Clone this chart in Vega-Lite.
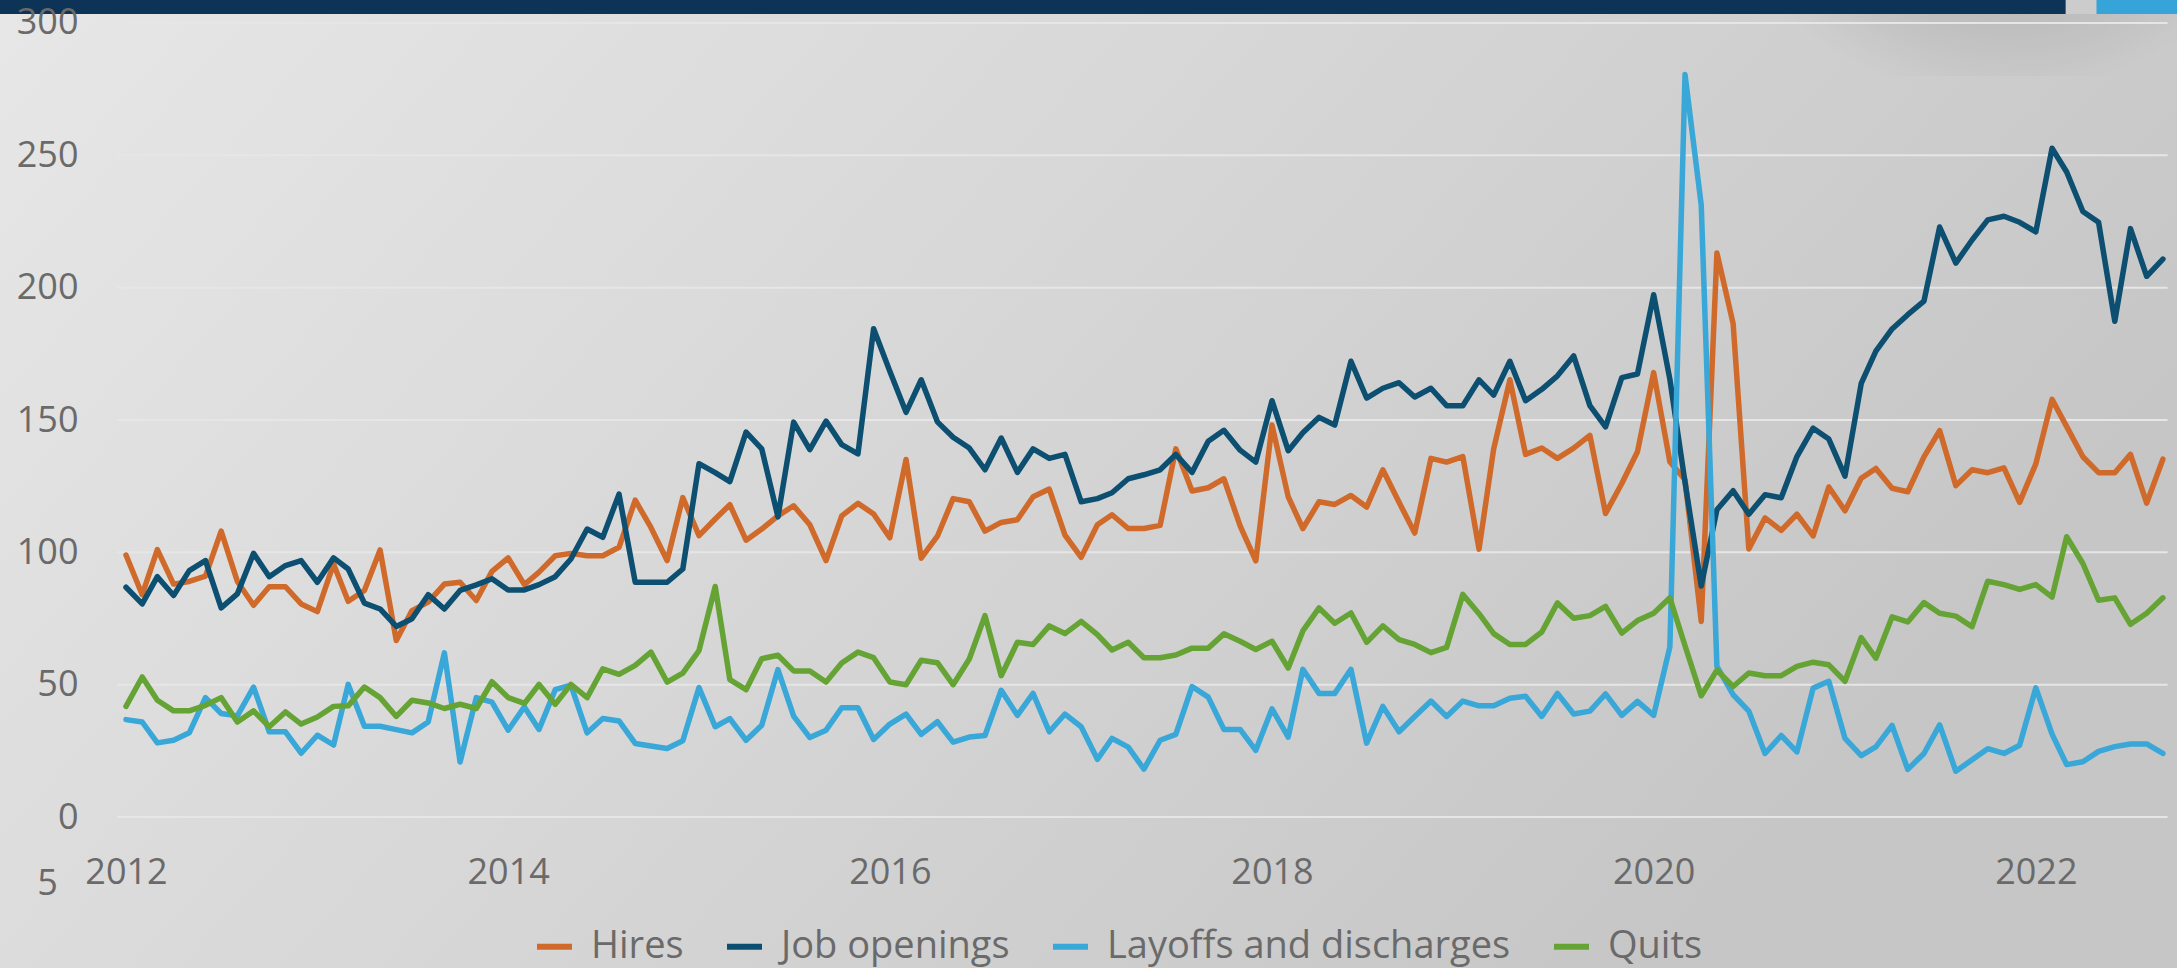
{
  "$schema": "https://vega.github.io/schema/vega-lite/v6.json",
  "width": 2177,
  "height": 968,
  "padding": 0,
  "autosize": {"type": "none"},
  "background": "#d6d6d6",
  "config": {"view": {"stroke": null}},
  "datasets": {
    "jolts": [
      {"date":"2012-01-01","Hires":99,"Job openings":86.8,"Layoffs and discharges":36.8,"Quits":41.8},
      {"date":"2012-02-01","Hires":84,"Job openings":80.5,"Layoffs and discharges":35.9,"Quits":52.9},
      {"date":"2012-03-01","Hires":101,"Job openings":90.8,"Layoffs and discharges":28,"Quits":44.1},
      {"date":"2012-04-01","Hires":88,"Job openings":83.7,"Layoffs and discharges":29,"Quits":40.1},
      {"date":"2012-05-01","Hires":89,"Job openings":93.1,"Layoffs and discharges":31.8,"Quits":40.1},
      {"date":"2012-06-01","Hires":91,"Job openings":96.9,"Layoffs and discharges":45.1,"Quits":42.2},
      {"date":"2012-07-01","Hires":108,"Job openings":79,"Layoffs and discharges":39.1,"Quits":45.1},
      {"date":"2012-08-01","Hires":89,"Job openings":84.3,"Layoffs and discharges":38.2,"Quits":35.9},
      {"date":"2012-09-01","Hires":80,"Job openings":99.6,"Layoffs and discharges":49.1,"Quits":40.1},
      {"date":"2012-10-01","Hires":87,"Job openings":90.8,"Layoffs and discharges":32.2,"Quits":34.1},
      {"date":"2012-11-01","Hires":87,"Job openings":95,"Layoffs and discharges":32.2,"Quits":39.7},
      {"date":"2012-12-01","Hires":80.5,"Job openings":96.9,"Layoffs and discharges":24.1,"Quits":35.1},
      {"date":"2013-01-01","Hires":77.6,"Job openings":88.7,"Layoffs and discharges":30.9,"Quits":37.8},
      {"date":"2013-02-01","Hires":95.6,"Job openings":97.9,"Layoffs and discharges":27.2,"Quits":41.8},
      {"date":"2013-03-01","Hires":81.5,"Job openings":93.7,"Layoffs and discharges":50.1,"Quits":42},
      {"date":"2013-04-01","Hires":85.6,"Job openings":80.8,"Layoffs and discharges":34.3,"Quits":49.1},
      {"date":"2013-05-01","Hires":100.9,"Job openings":78.6,"Layoffs and discharges":34.3,"Quits":45.1},
      {"date":"2013-06-01","Hires":66.7,"Job openings":72,"Layoffs and discharges":33,"Quits":38},
      {"date":"2013-07-01","Hires":78,"Job openings":74.9,"Layoffs and discharges":31.8,"Quits":44.1},
      {"date":"2013-08-01","Hires":81.2,"Job openings":84,"Layoffs and discharges":35.9,"Quits":43.1},
      {"date":"2013-09-01","Hires":88,"Job openings":78.6,"Layoffs and discharges":62,"Quits":41},
      {"date":"2013-10-01","Hires":88.7,"Job openings":85.6,"Layoffs and discharges":20.8,"Quits":42.6},
      {"date":"2013-11-01","Hires":81.8,"Job openings":87.7,"Layoffs and discharges":45.1,"Quits":41},
      {"date":"2013-12-01","Hires":92.8,"Job openings":90,"Layoffs and discharges":43.4,"Quits":51.1},
      {"date":"2014-01-01","Hires":97.9,"Job openings":85.8,"Layoffs and discharges":32.8,"Quits":45.1},
      {"date":"2014-02-01","Hires":87.8,"Job openings":85.8,"Layoffs and discharges":41.6,"Quits":42.9},
      {"date":"2014-03-01","Hires":92.5,"Job openings":87.8,"Layoffs and discharges":33.1,"Quits":50.1},
      {"date":"2014-04-01","Hires":98.7,"Job openings":90.8,"Layoffs and discharges":48.1,"Quits":42.6},
      {"date":"2014-05-01","Hires":99.6,"Job openings":97.5,"Layoffs and discharges":49.8,"Quits":50.1},
      {"date":"2014-06-01","Hires":98.7,"Job openings":108.8,"Layoffs and discharges":31.8,"Quits":45.1},
      {"date":"2014-07-01","Hires":98.7,"Job openings":105.7,"Layoffs and discharges":37.2,"Quits":56},
      {"date":"2014-08-01","Hires":101.9,"Job openings":122,"Layoffs and discharges":36.3,"Quits":53.9},
      {"date":"2014-09-01","Hires":119.7,"Job openings":88.7,"Layoffs and discharges":27.8,"Quits":57.3},
      {"date":"2014-10-01","Hires":109.4,"Job openings":88.7,"Layoffs and discharges":26.8,"Quits":62.3},
      {"date":"2014-11-01","Hires":96.9,"Job openings":88.7,"Layoffs and discharges":25.9,"Quits":51},
      {"date":"2014-12-01","Hires":120.7,"Job openings":93.7,"Layoffs and discharges":28.8,"Quits":54.4},
      {"date":"2015-01-01","Hires":106.3,"Job openings":133.5,"Layoffs and discharges":48.9,"Quits":62.9},
      {"date":"2015-02-01","Hires":112.6,"Job openings":130.1,"Layoffs and discharges":34.1,"Quits":87.1},
      {"date":"2015-03-01","Hires":118,"Job openings":126.7,"Layoffs and discharges":37.2,"Quits":51.9},
      {"date":"2015-04-01","Hires":104.6,"Job openings":145.4,"Layoffs and discharges":29,"Quits":48.1},
      {"date":"2015-05-01","Hires":108.8,"Job openings":139.1,"Layoffs and discharges":34.7,"Quits":59.8},
      {"date":"2015-06-01","Hires":113.8,"Job openings":113.4,"Layoffs and discharges":55.7,"Quits":61.1},
      {"date":"2015-07-01","Hires":117.6,"Job openings":149.2,"Layoffs and discharges":38.1,"Quits":55.2},
      {"date":"2015-08-01","Hires":110.4,"Job openings":138.8,"Layoffs and discharges":30,"Quits":55.2},
      {"date":"2015-09-01","Hires":96.9,"Job openings":149.6,"Layoffs and discharges":32.8,"Quits":51},
      {"date":"2015-10-01","Hires":113.8,"Job openings":140.7,"Layoffs and discharges":41.3,"Quits":58.2},
      {"date":"2015-11-01","Hires":118.5,"Job openings":137.2,"Layoffs and discharges":41.3,"Quits":62.3},
      {"date":"2015-12-01","Hires":114.5,"Job openings":184.5,"Layoffs and discharges":29.3,"Quits":60.2},
      {"date":"2016-01-01","Hires":105.5,"Job openings":168.4,"Layoffs and discharges":35.1,"Quits":51},
      {"date":"2016-02-01","Hires":135.1,"Job openings":152.9,"Layoffs and discharges":38.9,"Quits":50},
      {"date":"2016-03-01","Hires":97.8,"Job openings":165.2,"Layoffs and discharges":31.2,"Quits":59.2},
      {"date":"2016-04-01","Hires":106.1,"Job openings":149.3,"Layoffs and discharges":36,"Quits":58.3},
      {"date":"2016-05-01","Hires":120.3,"Job openings":143.5,"Layoffs and discharges":28.3,"Quits":50},
      {"date":"2016-06-01","Hires":119.1,"Job openings":139.4,"Layoffs and discharges":30.2,"Quits":59.7},
      {"date":"2016-07-01","Hires":108,"Job openings":131.2,"Layoffs and discharges":30.8,"Quits":76.1},
      {"date":"2016-08-01","Hires":111.3,"Job openings":143.2,"Layoffs and discharges":47.9,"Quits":53.4},
      {"date":"2016-09-01","Hires":112.3,"Job openings":130.2,"Layoffs and discharges":38.4,"Quits":66},
      {"date":"2016-10-01","Hires":121,"Job openings":139.1,"Layoffs and discharges":46.7,"Quits":65.2},
      {"date":"2016-11-01","Hires":123.9,"Job openings":135.5,"Layoffs and discharges":32.2,"Quits":72.2},
      {"date":"2016-12-01","Hires":106.5,"Job openings":137,"Layoffs and discharges":38.9,"Quits":69.3},
      {"date":"2017-01-01","Hires":98.1,"Job openings":119.1,"Layoffs and discharges":34.1,"Quits":73.9},
      {"date":"2017-02-01","Hires":110.4,"Job openings":120.3,"Layoffs and discharges":21.8,"Quits":68.9},
      {"date":"2017-03-01","Hires":114.2,"Job openings":122.5,"Layoffs and discharges":29.7,"Quits":63.1},
      {"date":"2017-04-01","Hires":109,"Job openings":127.8,"Layoffs and discharges":26.4,"Quits":66},
      {"date":"2017-05-01","Hires":109,"Job openings":129.3,"Layoffs and discharges":18.1,"Quits":60.2},
      {"date":"2017-06-01","Hires":110.2,"Job openings":131.2,"Layoffs and discharges":29,"Quits":60.2},
      {"date":"2017-07-01","Hires":139.1,"Job openings":137,"Layoffs and discharges":31.2,"Quits":61.2},
      {"date":"2017-08-01","Hires":123.2,"Job openings":130.2,"Layoffs and discharges":49.3,"Quits":63.8},
      {"date":"2017-09-01","Hires":124.4,"Job openings":142,"Layoffs and discharges":45.3,"Quits":63.8},
      {"date":"2017-10-01","Hires":127.8,"Job openings":146.1,"Layoffs and discharges":33.1,"Quits":69.2},
      {"date":"2017-11-01","Hires":110,"Job openings":138.6,"Layoffs and discharges":33.1,"Quits":66.4},
      {"date":"2017-12-01","Hires":96.8,"Job openings":134.1,"Layoffs and discharges":25.2,"Quits":63.3},
      {"date":"2018-01-01","Hires":148.1,"Job openings":157.3,"Layoffs and discharges":40.9,"Quits":66.4},
      {"date":"2018-02-01","Hires":121,"Job openings":138.4,"Layoffs and discharges":30.2,"Quits":56.3},
      {"date":"2018-03-01","Hires":109,"Job openings":145.2,"Layoffs and discharges":55.8,"Quits":70.3},
      {"date":"2018-04-01","Hires":119.1,"Job openings":151,"Layoffs and discharges":46.7,"Quits":79},
      {"date":"2018-05-01","Hires":118.1,"Job openings":148.1,"Layoffs and discharges":46.7,"Quits":73.2},
      {"date":"2018-06-01","Hires":121.5,"Job openings":172.2,"Layoffs and discharges":55.8,"Quits":77.1},
      {"date":"2018-07-01","Hires":117.1,"Job openings":158.3,"Layoffs and discharges":27.9,"Quits":66},
      {"date":"2018-08-01","Hires":131.2,"Job openings":162,"Layoffs and discharges":41.8,"Quits":72.2},
      {"date":"2018-09-01","Hires":118.9,"Job openings":164.1,"Layoffs and discharges":32.2,"Quits":67},
      {"date":"2018-10-01","Hires":107.3,"Job openings":158.7,"Layoffs and discharges":38,"Quits":65.2},
      {"date":"2018-11-01","Hires":135.5,"Job openings":162,"Layoffs and discharges":43.8,"Quits":62.1},
      {"date":"2018-12-01","Hires":134.1,"Job openings":155.4,"Layoffs and discharges":38,"Quits":64.1},
      {"date":"2019-01-01","Hires":136.2,"Job openings":155.4,"Layoffs and discharges":43.8,"Quits":84.1},
      {"date":"2019-02-01","Hires":101.2,"Job openings":165.2,"Layoffs and discharges":42,"Quits":76.8},
      {"date":"2019-03-01","Hires":139.1,"Job openings":159.4,"Layoffs and discharges":42,"Quits":69.3},
      {"date":"2019-04-01","Hires":165.2,"Job openings":172.2,"Layoffs and discharges":44.9,"Quits":65.2},
      {"date":"2019-05-01","Hires":137,"Job openings":157.3,"Layoffs and discharges":45.6,"Quits":65.2},
      {"date":"2019-06-01","Hires":139.4,"Job openings":161.6,"Layoffs and discharges":38,"Quits":69.9},
      {"date":"2019-07-01","Hires":135.5,"Job openings":166.7,"Layoffs and discharges":46.7,"Quits":80.9},
      {"date":"2019-08-01","Hires":139.4,"Job openings":174.2,"Layoffs and discharges":38.9,"Quits":75.1},
      {"date":"2019-09-01","Hires":144.2,"Job openings":155.4,"Layoffs and discharges":40,"Quits":76.1},
      {"date":"2019-10-01","Hires":114.7,"Job openings":147.4,"Layoffs and discharges":46.5,"Quits":79.6},
      {"date":"2019-11-01","Hires":126,"Job openings":166,"Layoffs and discharges":38.4,"Quits":69.5},
      {"date":"2019-12-01","Hires":138,"Job openings":167.4,"Layoffs and discharges":43.7,"Quits":74.2},
      {"date":"2020-01-01","Hires":167.9,"Job openings":197.3,"Layoffs and discharges":38.4,"Quits":77},
      {"date":"2020-02-01","Hires":134.2,"Job openings":165.4,"Layoffs and discharges":64.3,"Quits":82.8},
      {"date":"2020-03-01","Hires":127.4,"Job openings":126.4,"Layoffs and discharges":280.5,"Quits":64.7},
      {"date":"2020-04-01","Hires":73.9,"Job openings":87.3,"Layoffs and discharges":231.2,"Quits":45.8},
      {"date":"2020-05-01","Hires":213.1,"Job openings":116.1,"Layoffs and discharges":56.9,"Quits":55.5},
      {"date":"2020-06-01","Hires":186.4,"Job openings":123.3,"Layoffs and discharges":46.2,"Quits":49.3},
      {"date":"2020-07-01","Hires":101.3,"Job openings":114.4,"Layoffs and discharges":40,"Quits":54.4},
      {"date":"2020-08-01","Hires":113,"Job openings":121.8,"Layoffs and discharges":24,"Quits":53.4},
      {"date":"2020-09-01","Hires":108.3,"Job openings":120.6,"Layoffs and discharges":30.8,"Quits":53.4},
      {"date":"2020-10-01","Hires":114.4,"Job openings":136.2,"Layoffs and discharges":24.6,"Quits":56.9},
      {"date":"2020-11-01","Hires":106.2,"Job openings":146.9,"Layoffs and discharges":48.7,"Quits":58.5},
      {"date":"2020-12-01","Hires":124.7,"Job openings":142.8,"Layoffs and discharges":51.3,"Quits":57.5},
      {"date":"2021-01-01","Hires":115.7,"Job openings":128.8,"Layoffs and discharges":29.7,"Quits":51.3},
      {"date":"2021-02-01","Hires":128,"Job openings":163.8,"Layoffs and discharges":23.2,"Quits":67.8},
      {"date":"2021-03-01","Hires":131.7,"Job openings":176,"Layoffs and discharges":26.5,"Quits":60},
      {"date":"2021-04-01","Hires":124.2,"Job openings":184.4,"Layoffs and discharges":34.6,"Quits":75.6},
      {"date":"2021-05-01","Hires":122.9,"Job openings":189.8,"Layoffs and discharges":18,"Quits":73.7},
      {"date":"2021-06-01","Hires":136.1,"Job openings":194.9,"Layoffs and discharges":24,"Quits":81},
      {"date":"2021-07-01","Hires":146,"Job openings":222.9,"Layoffs and discharges":34.8,"Quits":77},
      {"date":"2021-08-01","Hires":125.2,"Job openings":209.3,"Layoffs and discharges":17.3,"Quits":75.9},
      {"date":"2021-09-01","Hires":131.2,"Job openings":218,"Layoffs and discharges":21.6,"Quits":71.9},
      {"date":"2021-10-01","Hires":130.1,"Job openings":225.6,"Layoffs and discharges":25.8,"Quits":89.1},
      {"date":"2021-11-01","Hires":131.9,"Job openings":227,"Layoffs and discharges":24,"Quits":87.8},
      {"date":"2021-12-01","Hires":118.9,"Job openings":224.7,"Layoffs and discharges":27.1,"Quits":86},
      {"date":"2022-01-01","Hires":133.4,"Job openings":221.1,"Layoffs and discharges":48.8,"Quits":87.8},
      {"date":"2022-02-01","Hires":157.8,"Job openings":252.7,"Layoffs and discharges":31.3,"Quits":83.1},
      {"date":"2022-03-01","Hires":147.5,"Job openings":243.7,"Layoffs and discharges":19.8,"Quits":105.9},
      {"date":"2022-04-01","Hires":136.1,"Job openings":228.8,"Layoffs and discharges":20.9,"Quits":95.8},
      {"date":"2022-05-01","Hires":130.1,"Job openings":224.7,"Layoffs and discharges":24.8,"Quits":81.9},
      {"date":"2022-06-01","Hires":130.1,"Job openings":187.3,"Layoffs and discharges":26.6,"Quits":82.8},
      {"date":"2022-07-01","Hires":137,"Job openings":222.3,"Layoffs and discharges":27.6,"Quits":72.8},
      {"date":"2022-08-01","Hires":118.6,"Job openings":204.3,"Layoffs and discharges":27.6,"Quits":77},
      {"date":"2022-09-01","Hires":135.2,"Job openings":210.8,"Layoffs and discharges":24,"Quits":82.8}
    ],
    "gridlines": [{"v":0},{"v":50},{"v":100},{"v":150},{"v":200},{"v":250},{"v":300}]
  },
  "layer": [
    {
      "data": {"values": [{}]},
      "mark": {"type": "rect", "fill": {"gradient": "linear", "x1": 0, "y1": 0, "x2": 1, "y2": 0.4, "stops": [{"offset": 0, "color": "#e7e7e7"}, {"offset": 0.5, "color": "#d7d7d7"}, {"offset": 1, "color": "#c6c6c6"}]}},
      "encoding": {
        "x": {"datum": {"year": 2011, "month": 5, "date": 5, "utc": true}, "type": "temporal", "scale": {"type": "utc", "domain": [{"year": 2011, "month": 5, "date": 5, "utc": true}, {"year": 2022, "month": 9, "date": 28, "utc": true}]}},
        "x2": {"datum": {"year": 2022, "month": 9, "date": 28, "utc": true}},
        "y": {"datum": -57.05, "type": "quantitative", "scale": {"domain": [-57.05, 308.69], "nice": false, "zero": false}},
        "y2": {"datum": 308.69}
      }
    },
    {
      "data": {"values": [{}]},
      "mark": {"type": "rect", "fill": {"gradient": "radial", "x1": 0.66, "y1": 0, "r1": 0, "x2": 0.66, "y2": 0, "r2": 0.6, "stops": [{"offset": 0, "color": "rgba(0,0,0,0.3)"}, {"offset": 1, "color": "rgba(0,0,0,0)"}]}},
      "encoding": {
        "x": {"datum": {"year": 2019, "month": 12, "date": 26, "utc": true}, "type": "temporal"},
        "x2": {"datum": {"year": 2022, "month": 9, "date": 28, "utc": true}},
        "y": {"datum": 303.4, "type": "quantitative"},
        "y2": {"datum": 280}
      }
    },
    {
      "data": {"name": "gridlines"},
      "mark": {"type": "rule", "stroke": "#e6e6e6", "strokeWidth": 2},
      "encoding": {
        "x": {"datum": {"year": 2011, "month": 12, "date": 15, "utc": true}, "type": "temporal"},
        "x2": {"datum": {"year": 2022, "month": 9, "date": 10, "utc": true}},
        "y": {"field": "v", "type": "quantitative"}
      }
    },
    {
      "data": {"values": [{}]},
      "mark": {"type": "rect", "fill": "#0d3357"},
      "encoding": {
        "x": {"datum": {"year": 2011, "month": 5, "date": 5, "utc": true}, "type": "temporal"},
        "x2": {"datum": {"year": 2022, "month": 2, "date": 27, "utc": true}},
        "y": {"datum": 308.69, "type": "quantitative"},
        "y2": {"datum": 303.4}
      }
    },
    {
      "data": {"values": [{}]},
      "mark": {"type": "rect", "fill": "#37a4d9"},
      "encoding": {
        "x": {"datum": {"year": 2022, "month": 4, "date": 27, "utc": true}, "type": "temporal"},
        "x2": {"datum": {"year": 2022, "month": 9, "date": 28, "utc": true}},
        "y": {"datum": 308.69, "type": "quantitative"},
        "y2": {"datum": 303.4}
      }
    },
    {
      "data": {"name": "jolts"},
      "transform": [{"fold": ["Hires", "Job openings", "Layoffs and discharges", "Quits"], "as": ["series", "value"]}],
      "mark": {"type": "line", "strokeWidth": 5.5, "strokeJoin": "round", "strokeCap": "round"},
      "encoding": {
        "x": {
          "field": "date", "type": "temporal",
          "axis": {
            "values": [{"year": 2012, "month": 1, "date": 1, "utc": true}, {"year": 2014, "month": 1, "date": 1, "utc": true}, {"year": 2016, "month": 1, "date": 1, "utc": true}, {"year": 2018, "month": 1, "date": 1, "utc": true}, {"year": 2020, "month": 1, "date": 1, "utc": true}, {"year": 2022, "month": 1, "date": 1, "utc": true}],
            "format": "%Y", "title": null, "grid": false, "domain": false, "ticks": false, "tickSize": 0, "zindex": 2,
            "offset": -96, "labelPadding": 0, "labelBaseline": "middle", "labelFlush": false, "labelOverlap": false,
            "labelFont": "Open Sans", "labelFontSize": 36, "labelColor": "#6a6a6a"
          }
        },
        "y": {
          "field": "value", "type": "quantitative",
          "axis": {
            "values": [0, 50, 100, 150, 200, 250, 300],
            "grid": false, "domain": false, "ticks": false, "tickSize": 0, "zindex": 2,
            "offset": -78, "labelPadding": 0, "labelFlush": false, "labelOverlap": false,
            "labelFont": "Open Sans", "labelFontSize": 36, "labelColor": "#6a6a6a",
            "title": "5", "titleAngle": 0, "titleX": -31, "titleY": 883, "titleAlign": "center", "titleBaseline": "middle",
            "titleFont": "Open Sans", "titleFontSize": 36, "titleFontWeight": "normal", "titleColor": "#6a6a6a"
          }
        },
        "color": {
          "field": "series", "type": "nominal",
          "scale": {"domain": ["Hires", "Job openings", "Layoffs and discharges", "Quits"], "range": ["#d06a2b", "#0c4f71", "#39a7d7", "#66a335"]},
          "legend": {
            "title": null, "orient": "none", "legendX": 534, "legendY": 926, "direction": "horizontal", "zindex": 2,
            "symbolType": "stroke", "symbolStrokeWidth": 6, "symbolSize": 1225,
            "labelFont": "Open Sans", "labelFontSize": 38, "labelColor": "#6a6a6a", "labelLimit": 800,
            "labelOffset": 16, "columnPadding": 31, "padding": 0
          }
        }
      }
    }
  ]
}
